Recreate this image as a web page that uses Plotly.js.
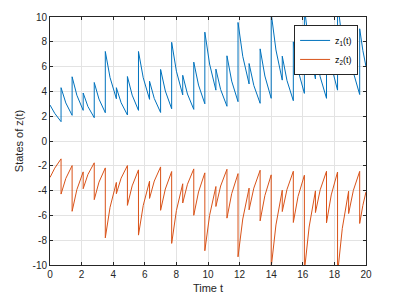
<!DOCTYPE html>
<html>
<head>
<meta charset="utf-8">
<script src="https://cdn.plot.ly/plotly-3.0.1.min.js"></script>
<style>html,body{margin:0;padding:0;background:#fff;}#chart{width:403px;height:300px;}</style>
</head>
<body>
<div id="chart"></div>
<script>
// Impulse (jump) times: segment k runs from segT[k] to segT[k+1]
const segT = [0,0.7,1.4,2.1,2.8,3.5,4.2,4.9,5.6,6.3,7.0,7.7,8.4,9.1,9.8,10.5,11.2,11.9,12.6,13.3,14.0,14.7,15.4,16.1,16.8,17.5,18.2,18.9,19.6,20.0];
// Interior sample time inside each segment
const midT = [0.3,1.0,1.7,2.4,3.1,3.8,4.5,5.2,5.9,6.6,7.3,8.0,8.7,9.4,10.1,10.8,11.5,12.2,12.9,13.6,14.3,15.0,15.7,16.4,17.1,17.8,18.5,19.2,19.8];

// z1(t): value right after each jump, inside, and right before next jump
const z1Start = [2.9,4.3,5.18,3.87,4.72,7.22,4.3,5.2,7.22,4.82,5.77,7.96,5.3,6.36,8.78,5.8,6.87,9.56,6.25,7.43,10.3,6.84,8.0,10.8,7.3,8.5,11.2,7.7,9.05];
const z1Mid   = [2.23,3.07,3.69,2.78,3.38,5.12,3.09,3.7,5.1,3.43,4.03,5.63,3.79,4.51,6.21,4.15,4.83,6.83,4.48,5.24,7.34,4.87,5.71,7.61,5.18,6.08,8.01,5.53,7.31];
const z1End   = [1.56,2.07,2.47,1.88,2.28,3.41,2.1,2.47,3.36,2.3,2.6,3.72,2.55,3.0,4.1,2.8,3.17,4.6,3.04,3.44,4.91,3.25,3.84,5.0,3.44,4.1,5.4,3.75,6.0];

// z2(t)
const z2Start = [-2.94,-4.28,-5.67,-3.85,-4.73,-7.81,-4.25,-5.19,-7.59,-4.63,-5.59,-8.26,-5.0,-5.99,-8.85,-5.28,-6.22,-9.34,-5.55,-6.44,-10.2,-5.69,-6.57,-10.5,-5.77,-6.6,-10.7,-5.85,-6.65];
const z2Mid   = [-2.19,-3.02,-3.92,-2.7,-3.32,-5.35,-3.0,-3.62,-5.2,-3.23,-3.87,-5.61,-3.49,-4.11,-6.0,-3.63,-4.25,-6.29,-3.8,-4.4,-6.77,-3.9,-4.47,-6.94,-3.94,-4.35,-7.04,-3.98,-5.2];
const z2End   = [-1.44,-1.98,-2.49,-1.76,-2.17,-3.34,-1.98,-2.33,-3.24,-2.09,-2.46,-3.45,-2.25,-2.57,-3.67,-2.28,-2.63,-3.8,-2.36,-2.73,-3.97,-2.44,-2.76,-4.02,-2.44,-2.5,-4.05,-2.45,-4.1];

const seriesNames = ['z<sub>1</sub>(t)','z<sub>2</sub>(t)'];
const xTicks = [0,2,4,6,8,10,12,14,16,18,20];
const yTicks = [-10,-8,-6,-4,-2,0,2,4,6,8,10];

function build(s, m, e){
  const x=[], y=[];
  for(let k=0;k<s.length;k++){
    x.push(segT[k]); y.push(s[k]);
    x.push(midT[k]); y.push(m[k]);
    x.push(segT[k+1]); y.push(e[k]);
  }
  return {x,y};
}
const d1 = build(z1Start,z1Mid,z1End);
const d2 = build(z2Start,z2Mid,z2End);

const font = {family:'Liberation Sans, Arial, sans-serif', size:10, color:'#262626'};
const traces = [
  {x:d1.x, y:d1.y, type:'scatter', mode:'lines', name:seriesNames[0], line:{color:'#0072BD', width:1}},
  {x:d2.x, y:d2.y, type:'scatter', mode:'lines', name:seriesNames[1], line:{color:'#D95319', width:1}}
];
const axisCommon = {
  showline:true, mirror:'ticks', linecolor:'#262626', linewidth:1,
  ticks:'inside', ticklen:3, tickcolor:'#262626', tickwidth:1,
  showgrid:true, gridcolor:'#e3e3e3', gridwidth:1, zeroline:false,
  tickfont:{family:font.family, size:10, color:'#262626'}
};
const layout = {
  width:403, height:300,
  margin:{l:50, r:37, t:17, b:35},
  paper_bgcolor:'#fff', plot_bgcolor:'#fff',
  font:font,
  showlegend:true,
  legend:{x:0.975, xanchor:'right', y:0.968, yanchor:'top', bgcolor:'#fff', bordercolor:'#262626', borderwidth:1,
          font:{family:font.family, size:9, color:'#000'}, itemwidth:30, tracegroupgap:0},
  xaxis:Object.assign({}, axisCommon, {range:[0,20], tickvals:xTicks, ticktext:xTicks.map(String),
        title:{text:'Time t', font:{family:font.family, size:11, color:'#262626'}, standoff:5}}),
  yaxis:Object.assign({}, axisCommon, {range:[-10,10], tickvals:yTicks, ticktext:yTicks.map(String),
        title:{text:'States of z(t)', font:{family:font.family, size:11, color:'#262626'}, standoff:6}})
};
Plotly.newPlot('chart', traces, layout, {staticPlot:true, displayModeBar:false});
</script>
</body>
</html>
